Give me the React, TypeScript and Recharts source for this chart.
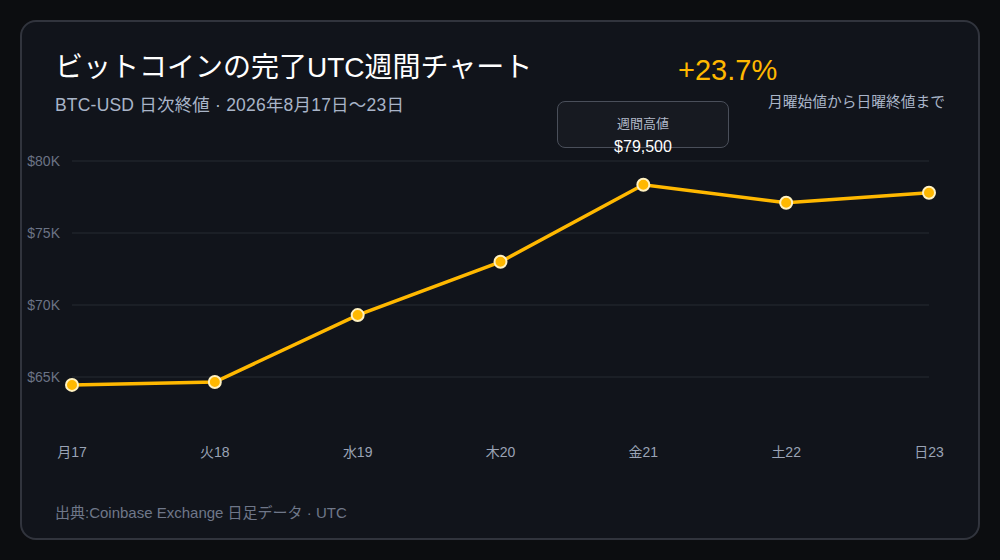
import React from "react";
import { LineChart, Line, XAxis, YAxis, CartesianGrid } from "recharts";

const days = ["月17", "火18", "水19", "木20", "金21", "土22", "日23"];
const closes = [64450, 64650, 69300, 73000, 78350, 77100, 77800];
const yTicks = [65000, 70000, 75000, 80000];
const yDomain = [61000, 80000];

const data = days.map((d, i) => ({ day: d, close: closes[i] }));

const FONT = '"Liberation Sans", Arial, "Noto Sans CJK JP", sans-serif';
const CJK = '"Noto Sans CJK JP", sans-serif';
const AMBER = "#ffb800";

const fmtK = (v: number) => `$${Math.round(v / 1000)}K`;

export default function App() {
  return (
    <div
      style={{
        position: "fixed",
        left: 0,
        top: 0,
        width: 1000,
        height: 560,
        background: "#0c0d10",
        fontFamily: FONT,
        overflow: "hidden",
      }}
    >
      <div
        style={{
          position: "absolute",
          left: 20,
          top: 20,
          width: 956,
          height: 516,
          borderRadius: 16,
          border: "2px solid #31343d",
          background: "#11141b",
        }}
      />
      <div style={{ position: "absolute", left: 0, top: 0 }}>
        <LineChart
          width={1000}
          height={560}
          data={data}
          margin={{ top: 161, right: 71, bottom: 95.4, left: 0 }}
        >
          <CartesianGrid
            vertical={false}
            horizontalValues={yTicks}
            stroke="#262a33"
            strokeWidth={1}
          />
          <XAxis
            dataKey="day"
            axisLine={false}
            tickLine={false}
            tickSize={0}
            tickMargin={12}
            height={30}
            interval={0}
            tick={{ fill: "#9aa3b5", fontSize: 14, fontFamily: FONT }}
          />
          <YAxis
            domain={yDomain}
            ticks={yTicks}
            tickFormatter={fmtK}
            axisLine={false}
            tickLine={false}
            tickSize={0}
            tickMargin={12}
            width={72}
            allowDataOverflow
            tick={{ fill: "#6b7385", fontSize: 14, fontFamily: FONT }}
          />
          <Line
            type="linear"
            dataKey="close"
            stroke={AMBER}
            strokeWidth={3.5}
            dot={{ r: 6, fill: AMBER, stroke: "#fff1c0", strokeWidth: 2 }}
            activeDot={false}
            isAnimationActive={false}
          />
        </LineChart>
      </div>

      <div
        style={{
          position: "absolute",
          left: 55,
          top: 50,
          fontSize: 28,
          color: "#ffffff",
          whiteSpace: "nowrap",
          lineHeight: "36px",
        }}
      >
        ビットコインの完了UTC週間チャート
      </div>
      <div
        style={{
          position: "absolute",
          left: 55,
          top: 93,
          fontSize: 17.5,
          letterSpacing: 0.2,
          color: "#a9b4c8",
          whiteSpace: "nowrap",
          lineHeight: "22px",
        }}
      >
        BTC-USD 日次終値 · 2026年8月17日
        <span style={{ fontFamily: CJK }}>〜</span>23日
      </div>

      <div
        style={{
          position: "absolute",
          left: 678,
          top: 52,
          fontSize: 29,
          color: AMBER,
          whiteSpace: "nowrap",
          lineHeight: "36px",
        }}
      >
        +23.7%
      </div>
      <div
        style={{
          position: "absolute",
          right: 55,
          top: 92,
          fontSize: 14.75,
          color: "#a9b4c8",
          whiteSpace: "nowrap",
          lineHeight: "20px",
        }}
      >
        月曜始値から日曜終値まで
      </div>

      <div
        style={{
          position: "absolute",
          left: 557,
          top: 101,
          width: 172,
          height: 47,
          boxSizing: "border-box",
          borderRadius: 8,
          border: "1px solid #4a4f5a",
          background: "#171a21",
        }}
      />
      <div
        style={{
          position: "absolute",
          left: 557,
          top: 114,
          width: 172,
          textAlign: "center",
          fontSize: 13,
          color: "#b0b8c8",
          lineHeight: "20px",
        }}
      >
        週間高値
      </div>
      <div
        style={{
          position: "absolute",
          left: 557,
          top: 136,
          width: 172,
          textAlign: "center",
          fontSize: 16,
          color: "#ffffff",
          lineHeight: "22px",
        }}
      >
        $79,500
      </div>

      <div
        style={{
          position: "absolute",
          left: 55,
          top: 503,
          fontSize: 15,
          color: "#6f7789",
          whiteSpace: "nowrap",
          lineHeight: "20px",
        }}
      >
        出典:Coinbase Exchange 日足データ · UTC
      </div>
    </div>
  );
}
